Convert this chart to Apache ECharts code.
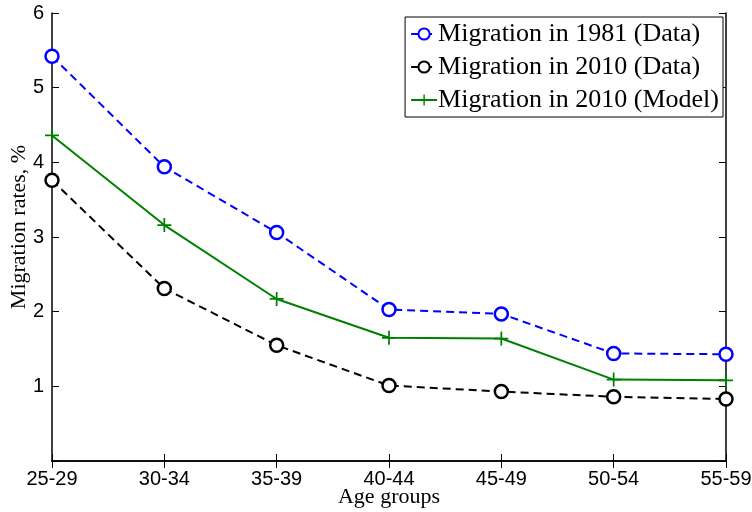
<!DOCTYPE html>
<html>
<head>
<meta charset="utf-8">
<script src="https://cdn.jsdelivr.net/npm/echarts@6/dist/echarts.min.js"></script>
<style>html,body{margin:0;padding:0;background:#fff}#c{width:752px;height:512px}</style>
</head>
<body>
<div id="c"></div>
<script>
var categories = ['25-29','30-34','35-39','40-44','45-49','50-54','55-59'];
var mig1981 = [5.42, 3.94, 3.06, 2.03, 1.97, 1.44, 1.43];
var mig2010 = [3.76, 2.31, 1.55, 1.01, 0.93, 0.86, 0.83];
var mig2010Model = [4.36, 3.16, 2.17, 1.65, 1.64, 1.09, 1.08];
var yTicks = [0, 1, 2, 3, 4, 5, 6];

var plus = 'path://M-1,-8 L1,-8 L1,-1 L8,-1 L8,1 L1,1 L1,8 L-1,8 L-1,1 L-8,1 L-8,-1 L-1,-1 Z';
var chart = echarts.init(document.getElementById('c'), null, {renderer:'canvas'});
var axisLine = {show:true, lineStyle:{color:'#000', width:1.5}};
chart.setOption({
  animation:false,
  backgroundColor:'#fff',
  grid:{left:52, right:26, top:13, bottom:51, containLabel:false, outerBoundsMode:'none'},
  legend:{
    right:29, top:17, orient:'vertical', itemGap:7, itemWidth:26, itemHeight:14,
    borderColor:'#000', borderWidth:1, backgroundColor:'#fff', padding:[4,4,4,5],
    textStyle:{fontFamily:'Liberation Serif', fontSize:26, color:'#000', padding:[0,0,0,-4]},
    data:['Migration in 1981 (Data)','Migration in 2010 (Data)','Migration in 2010 (Model)']
  },
  xAxis:[{
    type:'category', data:categories, boundaryGap:false,
    name:'Age groups', nameLocation:'middle', nameGap:25, nameMoveOverlap:false,
    nameTextStyle:{fontFamily:'Liberation Serif', fontSize:22, color:'#000'},
    axisLine:axisLine, axisTick:{inside:true, length:7, lineStyle:{color:'#000'}},
    axisLabel:{fontFamily:'Liberation Sans', fontSize:20, color:'#000', margin:8},
    splitLine:{show:false}
  },{
    type:'category', data:categories, boundaryGap:false, position:'top',
    axisLine:axisLine, axisTick:{inside:true, length:7, lineStyle:{color:'#000'}},
    axisLabel:{show:false}, splitLine:{show:false}
  }],
  yAxis:[{
    type:'value', min:yTicks[0], max:yTicks[yTicks.length-1], interval:1,
    name:'Migration rates, %', nameLocation:'middle', nameGap:22, nameMoveOverlap:false,
    nameTextStyle:{fontFamily:'Liberation Serif', fontSize:22, color:'#000', padding:[0,0,0,20]},
    axisLine:axisLine, axisTick:{show:true, inside:true, length:7, lineStyle:{color:'#000'}},
    axisLabel:{fontFamily:'Liberation Sans', fontSize:20, color:'#000', margin:8,
      formatter:function(v){return v===0?'':String(v);}},
    splitLine:{show:false}
  },{
    type:'value', min:yTicks[0], max:yTicks[yTicks.length-1], interval:1, position:'right',
    axisLine:axisLine, axisTick:{show:true, inside:true, length:7, lineStyle:{color:'#000'}},
    axisLabel:{show:false}, splitLine:{show:false}
  }],
  series:[{
    name:'Migration in 1981 (Data)', type:'line', data:mig1981,
    symbol:'circle', symbolSize:13, showAllSymbol:true,
    lineStyle:{color:'#0000ff', width:2, type:[8,5]},
    itemStyle:{color:'#fff', borderColor:'#0000ff', borderWidth:2.5}
  },{
    name:'Migration in 2010 (Data)', type:'line', data:mig2010,
    symbol:'circle', symbolSize:13,
    lineStyle:{color:'#000', width:2, type:[8,5]},
    itemStyle:{color:'#fff', borderColor:'#000', borderWidth:2.5}
  },{
    name:'Migration in 2010 (Model)', type:'line', data:mig2010Model,
    symbol:plus, symbolSize:14,
    lineStyle:{color:'#008000', width:2},
    itemStyle:{color:'#008000', borderWidth:0}
  }]
});
</script>
</body>
</html>
